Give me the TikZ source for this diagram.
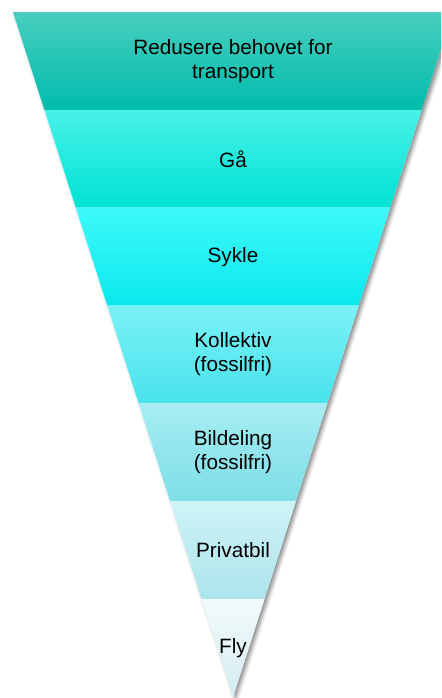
\documentclass[tikz,border=0pt]{standalone}
\usepackage{fontspec}
\setmainfont{Liberation Sans}
\usepackage{tikz}
\usetikzlibrary{calc, shadows.blur}
\definecolor{cBandAtop}{RGB}{72,206,190}
\definecolor{cBandAbot}{RGB}{0,188,172}
\definecolor{cBandBtop}{RGB}{72,242,232}
\definecolor{cBandBbot}{RGB}{0,226,212}
\definecolor{cBandCtop}{RGB}{62,250,250}
\definecolor{cBandCbot}{RGB}{10,232,236}
\definecolor{cBandDtop}{RGB}{122,242,246}
\definecolor{cBandDbot}{RGB}{72,226,236}
\definecolor{cBandEtop}{RGB}{166,237,243}
\definecolor{cBandEbot}{RGB}{126,222,230}
\definecolor{cBandFtop}{RGB}{206,243,247}
\definecolor{cBandFbot}{RGB}{172,228,235}
\definecolor{cBandGtop}{RGB}{243,251,252}
\definecolor{cBandGbot}{RGB}{212,235,240}
\tikzset{
	funnel/.style={fill=white, blur shadow={shadow xshift=1.5pt, shadow yshift=-1.5pt, shadow blur radius=2pt, shadow opacity=45}},
	lbl/.style={align=center, text=black, inner sep=0pt, font=\fontsize{11.8}{13.6}\selectfont},
}
\begin{document}
\begin{tikzpicture}[x=0.02cm, y=-0.02cm]
	\useasboundingbox (0,0) rectangle (441,698);
	\clip (0,0) rectangle (441,698);
	\coordinate (tl) at (13,12);
	\coordinate (tr) at (453,12);
	\coordinate (apex) at (233,697);
	% outline with shadow
	\path[funnel] (tl) -- (tr) -- (apex) -- cycle;
	% the seven bands
	\foreach \i/\c in {0/A,1/B,2/C,3/D,4/E,5/F,6/G}{
		\pgfmathsetmacro\j{\i+1}
		\shade[top color=cBand\c top, bottom color=cBand\c bot]
			($(tl)!\i/7!(apex)$) -- ($(tr)!\i/7!(apex)$) -- ($(tr)!\j/7!(apex)$) -- ($(tl)!\j/7!(apex)$) -- cycle;
	}
	\foreach \i/\c/\t in {0/A/{Redusere behovet for\\transport},1/B/{Gå},2/C/{Sykle},3/D/{Kollektiv\\(fossilfri)},4/E/{Bildeling\\(fossilfri)},5/F/{Privatbil},6/G/{Fly}}
		\node[lbl] (lbl\c) at (233,{12+(\i+0.5)*97.86}) {\t};
\end{tikzpicture}
\end{document}
